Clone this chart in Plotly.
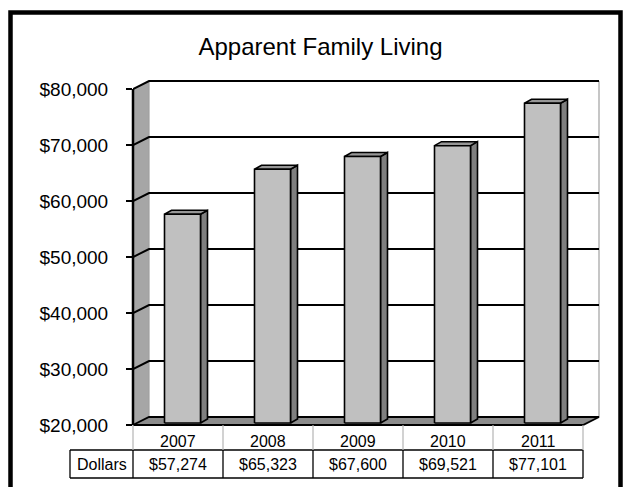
import plotly.graph_objects as go

# ---- data -------------------------------------------------------------
title_text = "Apparent Family Living"
years = ["2007", "2008", "2009", "2010", "2011"]
dollars = [57274, 65323, 67600, 69521, 77101]
row_label = "Dollars"
y_ticks = [20000, 30000, 40000, 50000, 60000, 70000, 80000]

# ---- geometry of the pseudo-3D frame (pixels) -------------------------
W, H = 626, 487
LEFT_PX = 133            # front-left corner of the floor (x = -0.5)
COL_PX = 90              # width of one category column
BASE_PX = 425            # front edge of the floor ($20,000)
PX_PER_DOLLAR = 5.6 / 1000
PLOT_TOP_PX = 74
PLOT_BOTTOM_PX = 432
PLOT_RIGHT_PX = 606

Y_MIN, Y_MAX = y_ticks[0], y_ticks[-1]
N = len(years)
x_lo = -0.5
x_front_hi = N - 0.5
x_hi = x_lo + (PLOT_RIGHT_PX - LEFT_PX) / COL_PX
y_lo = Y_MIN - (PLOT_BOTTOM_PX - BASE_PX) / PX_PER_DOLLAR
y_hi = Y_MIN + (BASE_PX - PLOT_TOP_PX) / PX_PER_DOLLAR


def ddx(px):
    return px / COL_PX


def ddy(px):
    return px / PX_PER_DOLLAR


plot_w = PLOT_RIGHT_PX - LEFT_PX
plot_h = PLOT_BOTTOM_PX - PLOT_TOP_PX


def paper_x(px):
    return (px - LEFT_PX) / plot_w


def paper_y(py):
    return (PLOT_BOTTOM_PX - py) / plot_h


def col_px(x):
    return LEFT_PX + (x - x_lo) * COL_PX


WALL_DX, WALL_DY = ddx(16), ddy(8)
BAR_HALF = ddx(18)
BAR_FRONT_DX, BAR_FRONT_DY = ddx(4.5), ddy(2)
BAR_DEPTH_DX, BAR_DEPTH_DY = ddx(7), ddy(4)

WALL_COLOR = "#a6a6a6"
FLOOR_COLOR = "#8c8c8c"
BAR_FRONT = "#c0c0c0"
BAR_SIDE = "#7f7f7f"
BAR_TOP = "#979797"
FONT = "Arial, Liberation Sans, sans-serif"

fig = go.Figure()

# left side wall
fig.add_trace(go.Scatter(
    x=[x_lo, x_lo, x_lo + WALL_DX, x_lo + WALL_DX],
    y=[Y_MIN, Y_MAX, Y_MAX + WALL_DY, Y_MIN + WALL_DY],
    fill="toself", fillcolor=WALL_COLOR, line=dict(width=0),
    mode="lines", hoverinfo="skip", showlegend=False))

# thin grey edges of the back wall
fig.add_trace(go.Scatter(
    x=[x_lo + WALL_DX, x_lo + WALL_DX, None, x_front_hi + WALL_DX, x_front_hi + WALL_DX],
    y=[Y_MIN + WALL_DY, Y_MAX + WALL_DY, None, Y_MIN + WALL_DY, Y_MAX + WALL_DY],
    mode="lines", line=dict(color="#a0a0a0", width=1.2),
    hoverinfo="skip", showlegend=False))

# gridlines running along the side wall and the back wall
gx, gy = [], []
for v in y_ticks[1:]:
    gx += [x_lo, x_lo + WALL_DX, x_front_hi + WALL_DX, None]
    gy += [v, v + WALL_DY, v + WALL_DY, None]
fig.add_trace(go.Scatter(x=gx, y=gy, mode="lines",
                         line=dict(color="black", width=2),
                         hoverinfo="skip", showlegend=False))

# floor
fig.add_trace(go.Scatter(
    x=[x_lo, x_front_hi, x_front_hi + WALL_DX, x_lo + WALL_DX, x_lo],
    y=[Y_MIN, Y_MIN, Y_MIN + WALL_DY, Y_MIN + WALL_DY, Y_MIN],
    fill="toself", fillcolor=FLOOR_COLOR, mode="lines",
    line=dict(color="black", width=1.8),
    hoverinfo="skip", showlegend=False))

# bars: front, side and top faces built from the values
fx, fy, sx, sy, tx, ty = [], [], [], [], [], []
for i, v in enumerate(dollars):
    x0 = i - BAR_HALF + BAR_FRONT_DX
    x1 = i + BAR_HALF + BAR_FRONT_DX
    yb = Y_MIN + BAR_FRONT_DY
    yt = v + BAR_FRONT_DY
    fx += [x0, x0, x1, x1, x0, None]
    fy += [yb, yt, yt, yb, yb, None]
    sx += [x1, x1, x1 + BAR_DEPTH_DX, x1 + BAR_DEPTH_DX, x1, None]
    sy += [yb, yt, yt + BAR_DEPTH_DY, yb + BAR_DEPTH_DY, yb, None]
    tx += [x0, x0 + BAR_DEPTH_DX, x1 + BAR_DEPTH_DX, x1, x0, None]
    ty += [yt, yt + BAR_DEPTH_DY, yt + BAR_DEPTH_DY, yt, yt, None]

for xs, ys, col in [(sx, sy, BAR_SIDE), (tx, ty, BAR_TOP), (fx, fy, BAR_FRONT)]:
    fig.add_trace(go.Scatter(x=xs, y=ys, fill="toself", fillcolor=col,
                             mode="lines", line=dict(color="black", width=1.6),
                             hoverinfo="skip", showlegend=False))

shapes = []
# front edge of the side wall (the value axis line)
shapes.append(dict(type="line", xref="paper", yref="y", x0=0, x1=0,
                   y0=Y_MIN, y1=Y_MAX, line=dict(color="black", width=2.5)))

# data table under the chart
ROW1_PX, ROW2_PX = 450, 478
LABEL_LEFT_PX = 70
table_right = col_px(x_front_hi)
for py in (ROW1_PX, ROW2_PX):
    shapes.append(dict(type="line", xref="paper", yref="paper",
                       x0=paper_x(LABEL_LEFT_PX), x1=paper_x(table_right),
                       y0=paper_y(py), y1=paper_y(py),
                       line=dict(color="black", width=1.3)))
shapes.append(dict(type="line", xref="paper", yref="paper",
                   x0=paper_x(LABEL_LEFT_PX), x1=paper_x(LABEL_LEFT_PX),
                   y0=paper_y(ROW1_PX), y1=paper_y(ROW2_PX),
                   line=dict(color="black", width=1.3)))
for k in range(N + 1):
    xp = paper_x(col_px(k - 0.5))
    shapes.append(dict(type="line", xref="paper", yref="paper", x0=xp, x1=xp,
                       y0=paper_y(BASE_PX), y1=paper_y(ROW1_PX),
                       line=dict(color="#b4b4b4", width=1.2)))
    shapes.append(dict(type="line", xref="paper", yref="paper", x0=xp, x1=xp,
                       y0=paper_y(ROW1_PX), y1=paper_y(ROW2_PX),
                       line=dict(color="black", width=1.3)))

# outer frame
shapes.append(dict(type="rect", xref="paper", yref="paper",
                   x0=paper_x(10.5), x1=paper_x(620.5),
                   y0=paper_y(530), y1=paper_y(12.5),
                   line=dict(color="black", width=4.5)))

annotations = []
for i, yr in enumerate(years):
    annotations.append(dict(x=i, xref="x", y=paper_y(441.5), yref="paper",
                            text=yr, showarrow=False, xanchor="center",
                            yanchor="middle",
                            font=dict(family=FONT, size=16, color="black")))
    annotations.append(dict(x=i, xref="x", y=paper_y(464.5), yref="paper",
                            text="${:,}".format(dollars[i]), showarrow=False,
                            xanchor="center", yanchor="middle",
                            font=dict(family=FONT, size=16, color="black")))
annotations.append(dict(x=paper_x((LABEL_LEFT_PX + LEFT_PX) / 2), xref="paper",
                        y=paper_y(464.5), yref="paper", text=row_label,
                        showarrow=False, xanchor="center", yanchor="middle",
                        font=dict(family=FONT, size=16, color="black")))

fig.update_layout(
    width=W, height=H,
    margin=dict(l=LEFT_PX, r=W - PLOT_RIGHT_PX, t=PLOT_TOP_PX, b=H - PLOT_BOTTOM_PX, pad=0),
    paper_bgcolor="white", plot_bgcolor="white",
    title=dict(text=title_text, x=320.5 / W, xref="container", xanchor="center",
               y=1 - 47 / H, yref="container", yanchor="middle",
               font=dict(family=FONT, size=24, color="black")),
    xaxis=dict(range=[x_lo, x_hi], visible=False, fixedrange=True),
    yaxis=dict(range=[y_lo, y_hi], tickvals=y_ticks,
               ticktext=["${:,}".format(v) for v in y_ticks],
               ticks="outside", ticklen=6, tickwidth=1.5, tickcolor="black",
               ticklabelstandoff=14,
               showgrid=False, zeroline=False, showline=False,
               tickfont=dict(family=FONT, size=19, color="black"),
               fixedrange=True),
    shapes=shapes, annotations=annotations, showlegend=False,
)

fig.write_html("out.html")
